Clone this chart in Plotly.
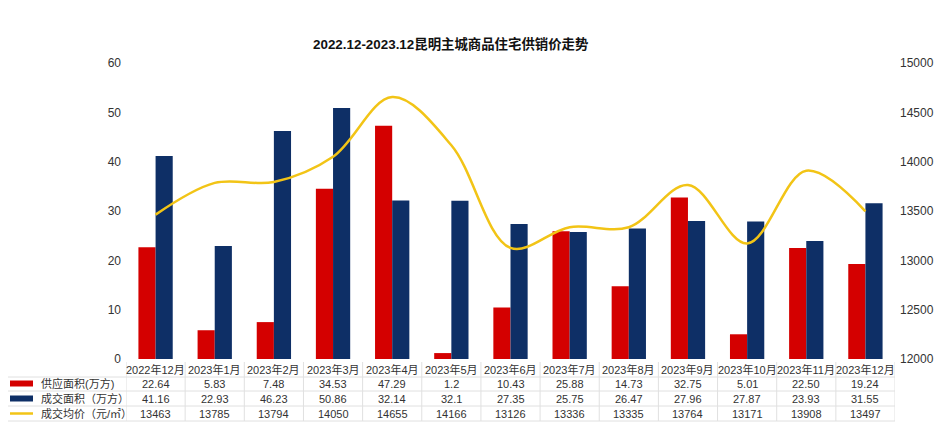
import plotly.graph_objects as go

months = ["2022年12月", "2023年1月", "2023年2月", "2023年3月", "2023年4月", "2023年5月",
          "2023年6月", "2023年7月", "2023年8月", "2023年9月", "2023年10月", "2023年11月", "2023年12月"]
supply_txt = ["22.64", "5.83", "7.48", "34.53", "47.29", "1.2", "10.43", "25.88", "14.73",
              "32.75", "5.01", "22.50", "19.24"]
deal_txt = ["41.16", "22.93", "46.23", "50.86", "32.14", "32.1", "27.35", "25.75", "26.47",
            "27.96", "27.87", "23.93", "31.55"]
price = [13463, 13785, 13794, 14050, 14655, 14166, 13126, 13336, 13335, 13764, 13171, 13908, 13497]
supply = [float(s) for s in supply_txt]
deal = [float(s) for s in deal_txt]

series_names = ["供应面积(万方)", "成交面积（万方）", "成交均价（元/㎡）"]
RED, BLUE, YELLOW = "#d40000", "#0e2f66", "#f2c416"
FONT = "Liberation Sans, Noto Sans CJK SC, sans-serif"
TXT = "#333"

W, H = 940, 436
L, R, T, B = 126, 45, 63, 77
PW, PH = W - L - R, H - T - B


def px(x):
    return (x - L) / PW


def py(y):
    return (H - B - y) / PH


fig = go.Figure()
fig.add_trace(go.Bar(x=months, y=supply, name=series_names[0], marker_color=RED,
                     marker_line_width=0))
fig.add_trace(go.Bar(x=months, y=deal, name=series_names[1], marker_color=BLUE,
                     marker_line_width=0))
fig.add_trace(go.Scatter(x=months, y=price, name=series_names[2], yaxis="y2", mode="lines",
                         line=dict(color=YELLOW, width=2.5, shape="spline", smoothing=1.0)))

ann = []
shapes = []

# table grid lines
GRID = "#e0e0e0"
for yy in [377, 391, 406, 421]:
    shapes.append(dict(type="line", xref="paper", yref="paper", x0=px(8), x1=1,
                       y0=py(yy), y1=py(yy), line=dict(color=GRID, width=1), layer="below"))
for i in range(len(months) + 1):
    shapes.append(dict(type="line", xref="x", yref="paper", x0=i - 0.5, x1=i - 0.5,
                       y0=py(362), y1=py(421), line=dict(color=GRID, width=1), layer="below"))

# header row
for m in months:
    ann.append(dict(x=m, xref="x", y=py(370), yref="paper", text=m, showarrow=False,
                    font=dict(size=11, color=TXT, family=FONT), xanchor="center",
                    yanchor="middle"))

row_y = [383.5, 398.5, 413.5]
rows = [supply_txt, deal_txt, [str(p) for p in price]]
for r, vals in enumerate(rows):
    for m, v in zip(months, vals):
        ann.append(dict(x=m, xref="x", y=py(row_y[r]), yref="paper", text=v, showarrow=False,
                        font=dict(size=11, color=TXT, family=FONT), xanchor="center",
                        yanchor="middle"))
    ann.append(dict(x=px(39), xref="paper", y=py(row_y[r]), yref="paper", text=series_names[r],
                    showarrow=False, font=dict(size=11, color=TXT, family=FONT),
                    xanchor="left", yanchor="middle"))

# legend swatches
shapes.append(dict(type="rect", xref="paper", yref="paper", x0=px(10), x1=px(33),
                   y0=py(386.5), y1=py(380.5), fillcolor=RED, line_width=0))
shapes.append(dict(type="rect", xref="paper", yref="paper", x0=px(10), x1=px(33),
                   y0=py(401.5), y1=py(395.5), fillcolor=BLUE, line_width=0))
shapes.append(dict(type="line", xref="paper", yref="paper", x0=px(10), x1=px(33),
                   y0=py(413.5), y1=py(413.5), line=dict(color=YELLOW, width=2.5)))

ann.append(dict(x=px(451), xref="paper", y=py(44), yref="paper",
                text="<b>2022.12-2023.12昆明主城商品住宅供销价走势</b>", showarrow=False,
                font=dict(size=13.4, color="#111", family=FONT), xanchor="center",
                yanchor="middle"))

fig.update_layout(
    width=W, height=H,
    margin=dict(l=L, r=R, t=T, b=B),
    paper_bgcolor="white", plot_bgcolor="white",
    barmode="group", bargap=0.42, bargroupgap=0,
    showlegend=False,
    font=dict(family=FONT, size=12, color=TXT),
    xaxis=dict(showgrid=False, showline=False, ticks="", showticklabels=False,
               range=[-0.5, len(months) - 0.5], automargin=False),
    yaxis=dict(range=[0, 60], dtick=10, showgrid=False, zeroline=False, showline=False,
               ticks="", tickfont=dict(size=12, color=TXT), automargin=False,
               ticklabelstandoff=4),
    yaxis2=dict(range=[12000, 15000], dtick=500, overlaying="y", side="right",
                showgrid=False, zeroline=False, showline=False, ticks="", tickformat="d",
                tickfont=dict(size=12, color=TXT), automargin=False, ticklabelstandoff=4),
    annotations=ann,
    shapes=shapes,
)

fig.write_html("out.html", config={"displayModeBar": False},
               post_script="document.body.style.margin='0';document.body.style.overflow='hidden';")
